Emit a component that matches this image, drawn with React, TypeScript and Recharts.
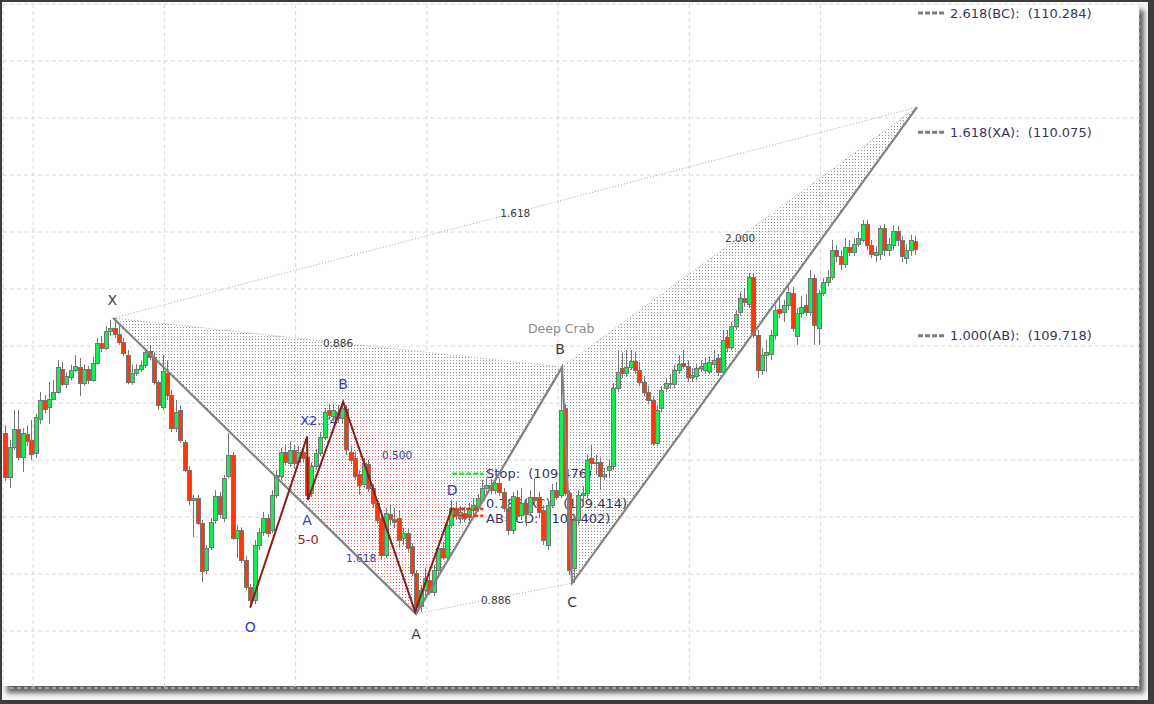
import React from "react";
import {
  ComposedChart,
  Bar,
  Line,
  Area,
  Scatter,
  XAxis,
  YAxis,
  CartesianGrid,
  ReferenceLine,
} from "recharts";

// candle values, one bar per slot
const opens = [
  109.547, 109.47, 109.523, 109.554, 109.505, 109.546, 109.535, 109.511, 109.572, 109.605,
  109.593, 109.607, 109.619, 109.66, 109.633, 109.646, 109.658, 109.663, 109.635, 109.66,
  109.64, 109.67, 109.705, 109.696, 109.726, 109.732, 109.721, 109.707, 109.684, 109.637,
  109.653, 109.66, 109.667, 109.691, 109.681, 109.637, 109.593, 109.653, 109.614, 109.556,
  109.588, 109.532, 109.482, 109.43, 109.433, 109.389, 109.307, 109.347, 109.395, 109.437,
  109.398, 109.472, 109.509, 109.363, 109.377, 109.325, 109.277, 109.254, 109.351, 109.374,
  109.398, 109.377, 109.439, 109.472, 109.514, 109.496, 109.518, 109.496, 109.514, 109.505,
  109.442, 109.489, 109.512, 109.54, 109.588, 109.577, 109.584, 109.574, 109.589, 109.514,
  109.504, 109.475, 109.458, 109.493, 109.451, 109.425, 109.398, 109.333, 109.405, 109.396,
  109.398, 109.363, 109.372, 109.349, 109.302, 109.244, 109.272, 109.289, 109.268, 109.307,
  109.346, 109.33, 109.386, 109.416, 109.398, 109.407, 109.4, 109.412, 109.418, 109.43,
  109.451, 109.456, 109.447, 109.46, 109.444, 109.416, 109.377, 109.435, 109.404, 109.425,
  109.409, 109.435, 109.435, 109.412, 109.351, 109.421, 109.447, 109.439, 109.591, 109.442,
  109.311, 109.395, 109.439, 109.442, 109.504, 109.495, 109.496, 109.472, 109.482, 109.489,
  109.626, 109.661, 109.653, 109.663, 109.674, 109.658, 109.637, 109.619, 109.605, 109.53,
  109.591, 109.626, 109.635, 109.633, 109.658, 109.67, 109.665, 109.646, 109.647, 109.661,
  109.658, 109.656, 109.668, 109.679, 109.654, 109.716, 109.698, 109.735, 109.76, 109.784,
  109.774, 109.821, 109.719, 109.658, 109.684, 109.686, 109.719, 109.765, 109.76, 109.772,
  109.793, 109.718, 109.758, 109.772, 109.76, 109.819, 109.732, 109.793, 109.812, 109.821,
  109.868, 109.858, 109.844, 109.874, 109.865, 109.879, 109.886, 109.914, 109.877, 109.86,
  109.861, 109.907, 109.868, 109.877, 109.902, 109.886, 109.854, 109.868, 109.884,
];
const highs = [
  109.561, 109.535, 109.588, 109.588, 109.556, 109.561, 109.57, 109.581, 109.619, 109.614,
  109.637, 109.64, 109.675, 109.672, 109.654, 109.667, 109.684, 109.679, 109.668, 109.665,
  109.681, 109.714, 109.718, 109.735, 109.746, 109.749, 109.735, 109.714, 109.693, 109.667,
  109.668, 109.675, 109.696, 109.702, 109.689, 109.64, 109.684, 109.675, 109.623, 109.605,
  109.596, 109.535, 109.489, 109.439, 109.439, 109.395, 109.351, 109.398, 109.447, 109.444,
  109.474, 109.547, 109.514, 109.386, 109.382, 109.332, 109.282, 109.36, 109.381, 109.409,
  109.405, 109.447, 109.482, 109.521, 109.526, 109.532, 109.528, 109.525, 109.526, 109.514,
  109.496, 109.519, 109.549, 109.591, 109.598, 109.598, 109.596, 109.602, 109.596, 109.525,
  109.514, 109.482, 109.504, 109.5, 109.458, 109.43, 109.405, 109.416, 109.421, 109.416,
  109.412, 109.381, 109.381, 109.354, 109.307, 109.281, 109.311, 109.307, 109.316, 109.351,
  109.356, 109.391, 109.43, 109.426, 109.419, 109.418, 109.425, 109.433, 109.44, 109.465,
  109.468, 109.467, 109.47, 109.468, 109.451, 109.423, 109.444, 109.447, 109.451, 109.433,
  109.447, 109.468, 109.444, 109.421, 109.43, 109.458, 109.461, 109.663, 109.598, 109.447,
  109.404, 109.447, 109.454, 109.509, 109.526, 109.509, 109.504, 109.486, 109.5, 109.635,
  109.693, 109.689, 109.693, 109.693, 109.689, 109.672, 109.647, 109.63, 109.612, 109.596,
  109.63, 109.644, 109.651, 109.667, 109.684, 109.693, 109.675, 109.661, 109.668, 109.675,
  109.679, 109.682, 109.693, 109.686, 109.728, 109.728, 109.742, 109.763, 109.795, 109.802,
  109.828, 109.826, 109.728, 109.696, 109.711, 109.728, 109.772, 109.784, 109.781, 109.811,
  109.804, 109.767, 109.788, 109.791, 109.833, 109.825, 109.798, 109.819, 109.833, 109.886,
  109.877, 109.868, 109.889, 109.886, 109.889, 109.9, 109.921, 109.921, 109.886, 109.875,
  109.911, 109.914, 109.889, 109.912, 109.911, 109.893, 109.879, 109.895, 109.893,
];
const lows = [
  109.463, 109.451, 109.518, 109.5, 109.479, 109.525, 109.5, 109.504, 109.563, 109.582,
  109.563, 109.605, 109.616, 109.63, 109.626, 109.64, 109.654, 109.612, 109.63, 109.633,
  109.637, 109.667, 109.689, 109.693, 109.718, 109.714, 109.702, 109.682, 109.633, 109.632,
  109.647, 109.654, 109.661, 109.675, 109.632, 109.588, 109.588, 109.605, 109.549, 109.549,
  109.53, 109.479, 109.421, 109.365, 109.386, 109.286, 109.3, 109.342, 109.388, 109.398,
  109.391, 109.468, 109.36, 109.328, 109.319, 109.272, 109.242, 109.247, 109.342, 109.367,
  109.365, 109.372, 109.433, 109.465, 109.491, 109.488, 109.486, 109.491, 109.496, 109.43,
  109.435, 109.482, 109.507, 109.535, 109.57, 109.568, 109.565, 109.563, 109.509, 109.493,
  109.465, 109.439, 109.451, 109.444, 109.416, 109.388, 109.325, 109.328, 109.386, 109.381,
  109.346, 109.351, 109.339, 109.296, 109.23, 109.233, 109.261, 109.263, 109.261, 109.293,
  109.325, 109.325, 109.381, 109.395, 109.388, 109.391, 109.393, 109.405, 109.409, 109.425,
  109.444, 109.44, 109.44, 109.437, 109.409, 109.368, 109.37, 109.395, 109.395, 109.384,
  109.402, 109.423, 109.398, 109.351, 109.342, 109.416, 109.43, 109.433, 109.437, 109.298,
  109.284, 109.386, 109.421, 109.433, 109.482, 109.474, 109.447, 109.465, 109.468, 109.482,
  109.619, 109.644, 109.646, 109.658, 109.651, 109.63, 109.612, 109.598, 109.525, 109.525,
  109.584, 109.619, 109.625, 109.626, 109.651, 109.66, 109.637, 109.637, 109.64, 109.654,
  109.651, 109.651, 109.661, 109.647, 109.651, 109.689, 109.693, 109.728, 109.753, 109.77,
  109.767, 109.714, 109.644, 109.649, 109.654, 109.675, 109.711, 109.749, 109.742, 109.763,
  109.725, 109.702, 109.749, 109.753, 109.753, 109.702, 109.702, 109.788, 109.805, 109.816,
  109.847, 109.833, 109.837, 109.858, 109.858, 109.874, 109.882, 109.868, 109.854, 109.847,
  109.851, 109.858, 109.858, 109.868, 109.875, 109.847, 109.844, 109.858, 109.86,
];
const closes = [
  109.47, 109.523, 109.554, 109.505, 109.547, 109.533, 109.511, 109.575, 109.605, 109.589,
  109.607, 109.619, 109.663, 109.633, 109.647, 109.658, 109.665, 109.635, 109.66, 109.64,
  109.67, 109.705, 109.696, 109.726, 109.732, 109.721, 109.707, 109.688, 109.637, 109.653,
  109.66, 109.667, 109.689, 109.681, 109.637, 109.596, 109.656, 109.614, 109.556, 109.584,
  109.535, 109.482, 109.43, 109.433, 109.389, 109.305, 109.346, 109.391, 109.437, 109.405,
  109.468, 109.509, 109.363, 109.377, 109.325, 109.277, 109.254, 109.351, 109.374, 109.398,
  109.372, 109.439, 109.474, 109.514, 109.496, 109.518, 109.495, 109.514, 109.504, 109.439,
  109.489, 109.512, 109.54, 109.584, 109.579, 109.588, 109.574, 109.591, 109.518, 109.5,
  109.472, 109.456, 109.495, 109.451, 109.425, 109.395, 109.333, 109.407, 109.396, 109.391,
  109.36, 109.372, 109.346, 109.302, 109.242, 109.272, 109.293, 109.268, 109.307, 109.346,
  109.33, 109.386, 109.416, 109.404, 109.409, 109.398, 109.414, 109.421, 109.433, 109.451,
  109.456, 109.447, 109.46, 109.444, 109.416, 109.377, 109.437, 109.402, 109.425, 109.405,
  109.435, 109.43, 109.409, 109.36, 109.421, 109.447, 109.435, 109.588, 109.442, 109.307,
  109.395, 109.439, 109.442, 109.5, 109.495, 109.496, 109.472, 109.475, 109.489, 109.626,
  109.654, 109.653, 109.663, 109.674, 109.658, 109.637, 109.619, 109.605, 109.53, 109.588,
  109.623, 109.635, 109.633, 109.658, 109.668, 109.665, 109.646, 109.649, 109.661, 109.665,
  109.67, 109.672, 109.675, 109.654, 109.711, 109.698, 109.735, 109.756, 109.784, 109.777,
  109.821, 109.719, 109.658, 109.684, 109.689, 109.719, 109.763, 109.758, 109.772, 109.795,
  109.732, 109.758, 109.768, 109.76, 109.819, 109.737, 109.793, 109.812, 109.821, 109.868,
  109.858, 109.844, 109.874, 109.865, 109.879, 109.889, 109.914, 109.877, 109.861, 109.865,
  109.907, 109.868, 109.879, 109.902, 109.886, 109.858, 109.868, 109.886, 109.87,
];

const priceTicks = [
  109.1, 109.2, 109.3, 109.4, 109.5, 109.6, 109.7, 109.8, 109.9, 110.0, 110.1, 110.2, 110.3,
];
const timeTicks = [6.4, 36.4, 66.4, 96.4, 126.4, 156.4, 186.4];

// Deep Crab pivots (bar slot, price)
const crabPoints = [
  { name: "X", i: 24.69, p: 109.749 },
  { name: "A", i: 93.94, p: 109.23 },
  { name: "B", i: 127.31, p: 109.663 },
  { name: "C", i: 129.6, p: 109.284 },
  { name: "D", i: 208.46, p: 110.119 },
];
// 5-0 pivots
const fiveOPoints = [
  { name: "O", i: 56.0, p: 109.241 },
  { name: "X", i: 69.03, p: 109.541 },
  { name: "A", i: 69.2, p: 109.43 },
  { name: "B", i: 77.26, p: 109.602 },
  { name: "C", i: 93.71, p: 109.234 },
  { name: "D", i: 102.17, p: 109.416 },
];

const levels = [
  { from: 208.7, to: 214.9, p: 110.284, kind: "proj" },
  { from: 208.7, to: 214.9, p: 110.075, kind: "proj" },
  { from: 208.7, to: 214.9, p: 109.718, kind: "proj" },
  { from: 102.2, to: 109.3, p: 109.476, kind: "stop" },
  { from: 102.2, to: 109.3, p: 109.414, kind: "target" },
  { from: 102.2, to: 109.3, p: 109.402, kind: "target" },
];

const labels = [
  { i: 24.46, p: 109.781, t: "X", kind: "point" },
  { i: 93.94, p: 109.195, t: "A", kind: "point" },
  { i: 126.86, p: 109.695, t: "B", kind: "point" },
  { i: 129.6, p: 109.251, t: "C", kind: "point" },
  { i: 127.1, p: 109.73, t: "Deep Crab", kind: "name" },
  { i: 76.1, p: 109.705, t: "0.886", kind: "ratio" },
  { i: 112.2, p: 109.255, t: "0.886", kind: "ratio" },
  { i: 116.6, p: 109.933, t: "1.618", kind: "ratio" },
  { i: 168.0, p: 109.89, t: "2.000", kind: "ratio" },
  { i: 56.0, p: 109.207, t: "O", kind: "blue" },
  { i: 69.0, p: 109.395, t: "A", kind: "blue" },
  { i: 77.26, p: 109.633, t: "B", kind: "blue" },
  { i: 102.17, p: 109.448, t: "D", kind: "blue" },
  { i: 67.43, p: 109.569, t: "X2.24", kind: "blueStart" },
  { i: 81.37, p: 109.328, t: "1.618", kind: "blueRatio" },
  { i: 89.6, p: 109.509, t: "0.500", kind: "blueRatio" },
  { i: 69.26, p: 109.36, t: "5-0", kind: "fiveO" },
  { i: 109.94, p: 109.476, t: "Stop:  (109.476)", kind: "level" },
  { i: 109.94, p: 109.424, t: "0.786(XC):  (109.414)", kind: "level" },
  { i: 109.94, p: 109.397, t: "AB=CD:  (109.402)", kind: "level" },
  { i: 216.0, p: 110.284, t: "2.618(BC):  (110.284)", kind: "level" },
  { i: 216.0, p: 110.075, t: "1.618(XA):  (110.075)", kind: "level" },
  { i: 216.0, p: 109.718, t: "1.000(AB):  (109.718)", kind: "level" },
];

const labelStyle: Record<string, { fill: string; size: number; anchor: string }> = {
  point: { fill: "#3c3c3c", size: 14, anchor: "middle" },
  name: { fill: "#8c8c8c", size: 12.5, anchor: "middle" },
  ratio: { fill: "#3c3c3c", size: 10.5, anchor: "middle" },
  blue: { fill: "#3a3ab4", size: 14, anchor: "middle" },
  blueStart: { fill: "#3a3ab4", size: 13, anchor: "start" },
  blueRatio: { fill: "#3a3ab4", size: 10.5, anchor: "middle" },
  fiveO: { fill: "#a81414", size: 13, anchor: "middle" },
  level: { fill: "#3a3560", size: 13, anchor: "start" },
};

const levelColor: Record<string, string> = {
  proj: "#7c7c7c",
  stop: "#2fe03a",
  target: "#ff2a14",
};

type Pt = { i: number; p: number };

const candles = opens.map((o, i) => ({
  i,
  open: o,
  high: highs[i],
  low: lows[i],
  close: closes[i],
  range: [lows[i], highs[i]],
}));

// range data for a filled triangle (three pivots sorted by slot)
function triangle(a: Pt, b: Pt, c: Pt) {
  const t = (b.i - a.i) / (c.i - a.i);
  const edge = a.p + (c.p - a.p) * t;
  return [
    { i: a.i, r: [a.p, a.p] },
    { i: b.i, r: [Math.min(b.p, edge), Math.max(b.p, edge)] },
    { i: c.i, r: [c.p, c.p] },
  ];
}

const [cX, cA, cB, cC, cD] = crabPoints;
const [, , fA, fB, fC, fD] = fiveOPoints;

function Candle(props: any) {
  const { x, y, width, height, payload } = props;
  if (!payload || x == null) return null;
  const { open, close, high, low } = payload;
  const top = height < 0 ? y + height : y;
  const h = Math.abs(height);
  const cx = Math.round(x + width / 2) + 0.5;
  const k = h / (high - low || 1);
  const yO = top + (high - open) * k;
  const yC = top + (high - close) * k;
  const bodyTop = Math.round(Math.min(yO, yC)) + 0.5;
  const bodyH = Math.max(Math.round(Math.abs(yC - yO)), 1);
  const up = close >= open;
  return (
    <g>
      <line x1={cx} x2={cx} y1={top} y2={top + h} stroke="#767676" strokeWidth={1} />
      <rect
        x={cx - 2}
        y={bodyTop}
        width={4}
        height={bodyH}
        fill={up ? "#10f050" : "#ff3808"}
        stroke="#767676"
        strokeWidth={1}
      />
    </g>
  );
}

function TextMark(props: any) {
  const { cx, cy, payload } = props;
  if (cx == null || !payload) return null;
  const s = labelStyle[payload.kind];
  return (
    <text
      x={cx}
      y={cy}
      fill={s.fill}
      fontSize={s.size}
      textAnchor={s.anchor}
      dominantBaseline="central"
      fontFamily="'DejaVu Sans', Verdana, sans-serif"
      style={{ whiteSpace: "pre" }}
    >
      {payload.t}
    </text>
  );
}

const dotted = { stroke: "#a6a6a6", strokeWidth: 1, strokeDasharray: "1 2" };

export default function App() {
  return (
    <div
      style={{
        position: "fixed",
        left: 0,
        top: 0,
        width: 1154,
        height: 704,
        background: "#3d3d3d",
        overflow: "hidden",
      }}
    >
      <div
        style={{ position: "absolute", left: 2, top: 2, width: 1146, height: 698, background: "#f6f6f6" }}
      />
      <div
        style={{
          position: "absolute",
          left: 2,
          top: 3,
          width: 1137,
          height: 683,
          background: "#ffffff",
          boxShadow: "5px 7px 5px rgba(0,0,0,0.6)",
        }}
      />
      <div style={{ position: "absolute", left: 0, top: 0 }}>
        <ComposedChart
          width={1154}
          height={704}
          data={candles}
          margin={{ top: 4, right: 15, bottom: 16, left: 3 }}
        >
          <defs>
            <pattern id="grayDots" width="3" height="3" patternUnits="userSpaceOnUse">
              <rect width="1" height="1" fill="#8e8e8e" />
            </pattern>
            <pattern id="redDots" width="3" height="3" patternUnits="userSpaceOnUse">
              <rect width="1" height="1" fill="#f06050" />
            </pattern>
          </defs>
          <CartesianGrid stroke="#dadada" strokeDasharray="4 3" />
          <XAxis
            type="number"
            dataKey="i"
            domain={[-0.5, 259.2]}
            ticks={timeTicks}
            allowDataOverflow
            hide
          />
          <YAxis type="number" domain={[109.1, 110.3]} ticks={priceTicks} allowDataOverflow hide />

          <Area data={triangle(cX, cA, cB)} dataKey="r" type="linear" stroke="none" fill="url(#grayDots)" fillOpacity={1} dot={false} activeDot={false} isAnimationActive={false} zIndex={100} />
          <Area data={triangle(cB, cC, cD)} dataKey="r" type="linear" stroke="none" fill="url(#grayDots)" fillOpacity={1} dot={false} activeDot={false} isAnimationActive={false} zIndex={100} />
          <Area data={triangle(fA, fB, fC)} dataKey="r" type="linear" stroke="none" fill="url(#redDots)" fillOpacity={1} dot={false} activeDot={false} isAnimationActive={false} zIndex={100} />
          <Area data={triangle(fB, fC, fD)} dataKey="r" type="linear" stroke="none" fill="url(#redDots)" fillOpacity={1} dot={false} activeDot={false} isAnimationActive={false} zIndex={100} />

          <Line data={[cX, cB]} dataKey="p" {...dotted} dot={false} activeDot={false} isAnimationActive={false} zIndex={110} />
          <Line data={[cA, cC]} dataKey="p" {...dotted} dot={false} activeDot={false} isAnimationActive={false} zIndex={110} />
          <Line data={[cX, cD]} dataKey="p" {...dotted} dot={false} activeDot={false} isAnimationActive={false} zIndex={110} />
          <Line data={[cB, cD]} dataKey="p" {...dotted} dot={false} activeDot={false} isAnimationActive={false} zIndex={110} />

          <Scatter data={labels} dataKey="p" shape={TextMark} isAnimationActive={false} zIndex={200} />

          <Bar dataKey="range" barSize={4} shape={Candle} isAnimationActive={false} zIndex={300} />

          <Line data={crabPoints} dataKey="p" type="linear" stroke="#828282" strokeWidth={2.2} dot={false} activeDot={false} isAnimationActive={false} zIndex={400} />
          <Line data={fiveOPoints} dataKey="p" type="linear" stroke="#8a1c1c" strokeWidth={2} dot={false} activeDot={false} isAnimationActive={false} zIndex={400} />

          {levels.map((l, k) => (
            <ReferenceLine
              key={k}
              segment={[
                { x: l.from, y: l.p },
                { x: l.to, y: l.p },
              ]}
              stroke={levelColor[l.kind]}
              strokeWidth={l.kind === "proj" ? 3 : 2.5}
              strokeDasharray="5 2"
              zIndex={450}
            />
          ))}
        </ComposedChart>
      </div>
    </div>
  );
}
